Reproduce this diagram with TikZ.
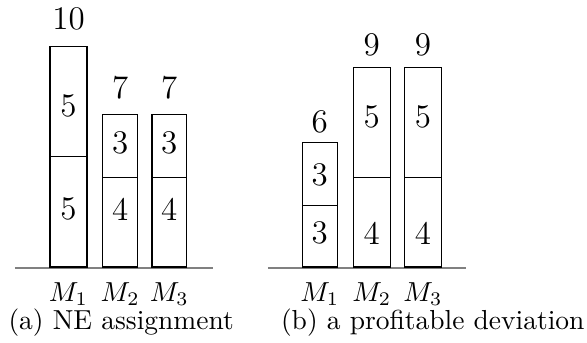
\documentclass[tikz,border=0pt]{standalone}
\begin{document}
\begin{tikzpicture}[x=0.3636pt,y=-0.3636pt,
  num/.style={font=\large, inner sep=0pt},
  lab/.style={inner sep=0pt, anchor=base},
  barline/.style={draw=black, line width=0.4pt},
  ground/.style={draw=black!50, line width=0.6pt}]
\useasboundingbox (0,0) rectangle (587,343);

% stacked bar: left x, right x, divider y, top y (bottom on the ground line)
\newcommand\stackedbar[4]{%
  \draw[barline] (#1,267) rectangle (#2,#4);
  \draw[barline] (#1,#3) -- (#2,#3);}

% ---------- (a) NE assignment ----------
\draw[ground] (15,267.8) coordinate (ga) -- (213,267.8) coordinate (gb);
\stackedbar{50}{87}{156.7}{46.7}
\stackedbar{102.7}{137.7}{177.3}{114.3}
\stackedbar{152}{186.7}{177.3}{114.3}

\node[num] (a1t) at (68.5,19) {10};
\node[num] (a2t) at (120.2,88) {7};
\node[num] (a3t) at (169.3,88) {7};
\node[num] (a1u) at (68.5,106) {5};
\node[num] (a1l) at (68.5,209) {5};
\node[num] (a2u) at (120.2,142.5) {3};
\node[num] (a2l) at (120.2,209.5) {4};
\node[num] (a3u) at (169.3,142.5) {3};
\node[num] (a3l) at (169.3,209.5) {4};

\node[lab] (am1) at (68.5,301.5) {$M_1$};
\node[lab] (am2) at (120.2,301.5) {$M_2$};
\node[lab] (am3) at (169.3,301.5) {$M_3$};
\node[lab, anchor=base west] (capa) at (8,329) {(a) NE assignment};

% ---------- (b) a profitable deviation ----------
\draw[ground] (268,267.8) coordinate (gc) -- (466,267.8) coordinate (gd);
\stackedbar{302.3}{337.3}{205.7}{142.7}
\stackedbar{353.3}{390.3}{177.3}{67.3}
\stackedbar{404.3}{441.7}{177.3}{67.3}

\node[num] (b1t) at (319.8,121.5) {6};
\node[num] (b2t) at (371.8,45) {9};
\node[num] (b3t) at (423,45) {9};
\node[num] (b1u) at (319.8,175) {3};
\node[num] (b1l) at (319.8,233) {3};
\node[num] (b2u) at (371.8,117) {5};
\node[num] (b2l) at (371.8,233) {4};
\node[num] (b3u) at (423,117) {5};
\node[num] (b3l) at (423,233) {4};

\node[lab] (bm1) at (319.8,301.5) {$M_1$};
\node[lab] (bm2) at (371.8,301.5) {$M_2$};
\node[lab] (bm3) at (423,301.5) {$M_3$};
\node[lab, anchor=base east] (capb) at (585,329) {(b) a profitable deviation};
\end{tikzpicture}
\end{document}
